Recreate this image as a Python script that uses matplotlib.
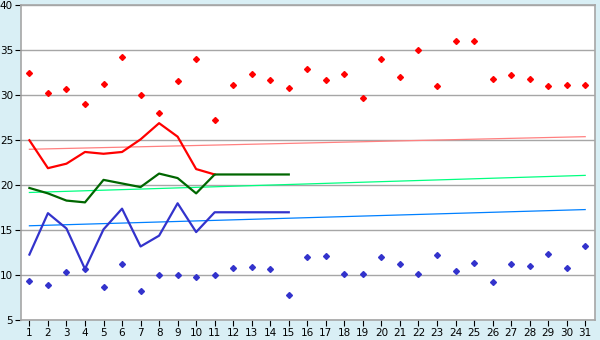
import matplotlib
matplotlib.use("Agg")
import matplotlib.pyplot as plt

days = list(range(1, 32))

# daily highs / lows (scatter)
max_temp = [32.5, 30.3, 30.7, 29.0, 31.2, 34.2, 30.0, 28.0, 31.6, 34.0,
            27.3, 31.1, 32.4, 31.7, 30.8, 32.9, 31.7, 32.4, 29.7, 34.0,
            32.0, 35.0, 31.0, 36.0, 36.0, 31.8, 32.2, 31.8, 31.0, 31.1, 31.1]
min_temp = [9.4, 8.9, 10.4, 10.7, 8.7, 11.3, 8.3, 10.0, 10.0, 9.8,
            10.0, 10.8, 10.9, 10.7, 7.8, 12.0, 12.1, 10.1, 10.1, 12.0,
            11.2, 10.1, 12.2, 10.5, 11.4, 9.2, 11.2, 11.0, 12.4, 10.8, 13.3]

# line series
red_days = list(range(1, 12))
red_line = [25.0, 21.9, 22.4, 23.7, 23.5, 23.7, 25.1, 26.9, 25.4, 21.8, 21.2]
line_days = list(range(1, 16))
green_line = [19.7, 19.1, 18.3, 18.1, 20.6, 20.2, 19.8, 21.3, 20.8, 19.1,
              21.2, 21.2, 21.2, 21.2, 21.2]
blue_line = [12.3, 16.9, 15.2, 10.7, 15.1, 17.4, 13.2, 14.4, 18.0, 14.8,
             17.0, 17.0, 17.0, 17.0, 17.0]

# trend lines (start, end)
trend_days = [1, 31]
red_trend = [24.0, 25.4]
green_trend = [19.2, 21.1]
blue_trend = [15.5, 17.3]

bg = "#d9eff5"
fig = plt.figure(figsize=(6, 3.4), dpi=100, facecolor=bg)
ax = fig.add_axes([0.0345, 0.058, 0.9575, 0.9265])
ax.set_facecolor("white")

ax.plot(trend_days, red_trend, color="#ff8080", lw=0.9)
ax.plot(trend_days, green_trend, color="#00ff80", lw=0.9)
ax.plot(trend_days, blue_trend, color="#0080ff", lw=0.9)

ax.plot(red_days, red_line, color="#ff0000", lw=1.6)
ax.plot(line_days, green_line, color="#006600", lw=1.6)
ax.plot(line_days, blue_line, color="#3333cc", lw=1.6)

ax.plot(days, max_temp, "D", color="#ff0000", ms=3, ls="none")
ax.plot(days, min_temp, "D", color="#3333cc", ms=3, ls="none")

ax.set_xlim(0.53, 31.54)
ax.set_ylim(5, 40)
ax.set_xticks(days)
ax.set_yticks(range(5, 41, 5))
ax.yaxis.grid(True, color="#a6a6a6", lw=1)
ax.set_axisbelow(True)
for s in ax.spines.values():
    s.set_color("#a6a6a6")
    s.set_linewidth(1.2)
ax.tick_params(axis="both", length=4, width=0.8, color="black",
               labelsize=7.5, pad=1.5)

fig.savefig("out.png", dpi=100, facecolor=bg)
